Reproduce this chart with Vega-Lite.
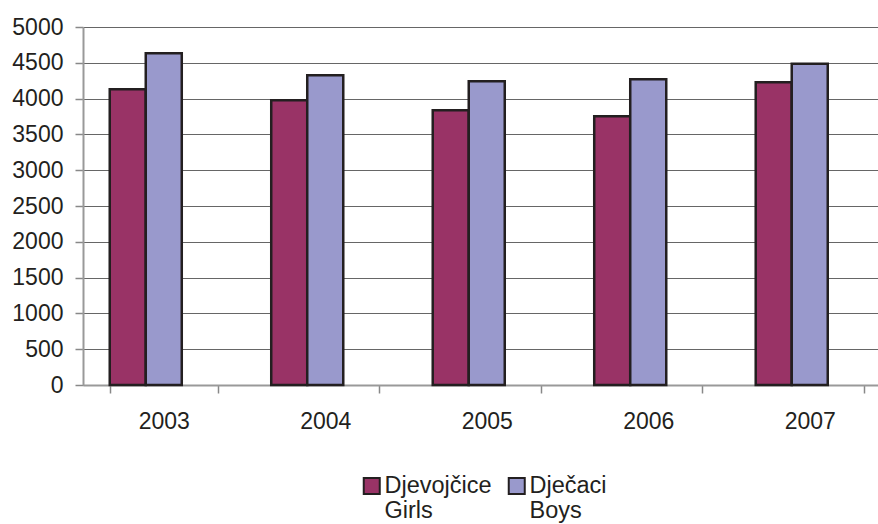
{
  "$schema": "https://vega.github.io/schema/vega-lite/v6.json",
  "autosize": "none",
  "padding": {"left": 83, "top": 27, "right": 0, "bottom": 139},
  "width": 795,
  "height": 358,
  "background": "white",
  "config": {
    "font": "Liberation Sans",
    "view": {"stroke": null}
  },
  "data": {
    "values": [
      {"year": "2003", "series": "Djevojčice|Girls", "value": 4130},
      {"year": "2003", "series": "Dječaci|Boys", "value": 4633},
      {"year": "2004", "series": "Djevojčice|Girls", "value": 3976},
      {"year": "2004", "series": "Dječaci|Boys", "value": 4325},
      {"year": "2005", "series": "Djevojčice|Girls", "value": 3836},
      {"year": "2005", "series": "Dječaci|Boys", "value": 4241},
      {"year": "2006", "series": "Djevojčice|Girls", "value": 3752},
      {"year": "2006", "series": "Dječaci|Boys", "value": 4269},
      {"year": "2007", "series": "Djevojčice|Girls", "value": 4227},
      {"year": "2007", "series": "Dječaci|Boys", "value": 4488}
    ]
  },
  "mark": {"type": "bar", "stroke": "#231f20", "strokeWidth": 2.5, "strokeJoin": "miter"},
  "encoding": {
    "x": {
      "field": "year", "type": "nominal", "title": null,
      "scale": {"range": [0, 807.5], "paddingInner": 0.331, "paddingOuter": 0.1656},
      "axis": {
        "labelAngle": 0, "tickBand": "extent", "tickSize": 8, "tickColor": "#888888", "tickWidth": 1.5,
        "domainColor": "#999999", "domainWidth": 2, "labelPadding": 17, "grid": false,
        "labelFont": "Liberation Sans", "labelFontSize": 23, "labelColor": "#231f20"
      }
    },
    "xOffset": {
      "field": "series", "type": "nominal",
      "scale": {"domain": ["Djevojčice|Girls", "Dječaci|Boys", "empty"], "paddingInner": 0, "paddingOuter": 0}
    },
    "y": {
      "field": "value", "type": "quantitative", "title": null,
      "scale": {"domain": [0, 5000], "nice": false},
      "axis": {
        "values": [0, 500, 1000, 1500, 2000, 2500, 3000, 3500, 4000, 4500, 5000],
        "format": "d",
        "tickSize": 8, "tickColor": "#888888", "tickWidth": 1.5, "labelPadding": 12,
        "domainColor": "#999999", "domainWidth": 2,
        "grid": true, "gridColor": "#666666", "gridWidth": 1.2,
        "labelFont": "Liberation Sans", "labelFontSize": 23, "labelColor": "#231f20"
      }
    },
    "color": {
      "field": "series", "type": "nominal", "title": null,
      "scale": {"domain": ["Djevojčice|Girls", "Dječaci|Boys"], "range": ["#993366", "#9999cc"]},
      "legend": {
        "orient": "none", "legendX": 277, "legendY": 447, "direction": "horizontal", "columns": 2,
        "padding": 0, "columnPadding": 12, "symbolType": "square", "symbolSize": 256,
        "symbolStrokeColor": "#231f20", "symbolStrokeWidth": 2, "symbolOpacity": 1,
        "labelFontSize": 23.5, "labelFont": "Liberation Sans", "labelColor": "#231f20",
        "labelOffset": 1, "labelBaseline": "middle", "labelLineHeight": 29, "labelLimit": 300,
        "labelExpr": "split(datum.label, '|')"
      }
    }
  }
}
